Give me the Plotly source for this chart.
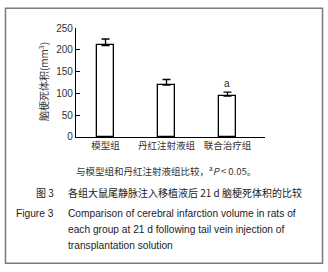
import plotly.graph_objects as go

categories = ["模型组", "丹红注射液组", "联合治疗组"]
volumes = [210, 119, 94]
errors = [15, 13, 9]
sig_marks = ["", "", "a"]
y_ticks = [0, 50, 100, 150, 200, 250]

W, H = 328, 272
def px(x): return x / W
def py(y): return 1 - y / H

CJK = "Noto Sans CJK SC, Liberation Sans, sans-serif"
LAT = "Liberation Sans, Arial, sans-serif"

fig = go.Figure()
fig.add_trace(go.Bar(
    x=categories, y=volumes, width=0.27,
    marker=dict(color="white", line=dict(color="black", width=1.3)),
    error_y=dict(type="data", array=errors, arrayminus=[0]*len(errors), symmetric=False,
                 color="black", thickness=1.3, width=4),
    showlegend=False, hoverinfo="skip",
))

for c, v, e, m in zip(categories, volumes, errors, sig_marks):
    if m:
        fig.add_annotation(x=c, y=v + e, text=m, showarrow=False, xanchor="center",
                           yanchor="bottom", yshift=1,
                           font=dict(family=LAT, size=10, color="#222"))

fig.update_layout(
    width=W, height=H, margin=dict(l=0, r=0, t=0, b=0),
    paper_bgcolor="white", plot_bgcolor="white",
    xaxis=dict(domain=[px(76), px(265)], range=[-0.484, 2.615], showline=True, linecolor="black",
               linewidth=1.2, ticks="", showgrid=False, zeroline=False,
               tickfont=dict(family=CJK, size=9.5, color="#333")),
    yaxis=dict(domain=[py(137), py(24)], range=[0, 250], tickvals=y_ticks, showline=True,
               linecolor="black", linewidth=1.2, ticks="inside", ticklen=4, tickcolor="black",
               showgrid=False, zeroline=False, tickfont=dict(family=LAT, size=10, color="#333")),
    bargap=0,
)

def note(x, y, text, font, xanchor="center", angle=0):
    fig.add_annotation(xref="paper", yref="paper", x=px(x), y=py(y), text=text, textangle=angle,
                       xanchor=xanchor, yanchor="middle", showarrow=False, font=font)

note(43, 80, "脑梗死体积(mm<sup>3</sup>)", dict(family=CJK, size=10, color="#333"), angle=-90)
note(166, 172, "与模型组和丹红注射液组比较，<sup>a</sup><i>P</i> < 0.05。",
     dict(family=CJK, size=9.5, color="#333"))
note(56, 195, "图 3", dict(family=CJK, size=10, color="#222"), xanchor="right")
note(66, 195, "各组大鼠尾静脉注入移植液后 21 d 脑梗死体积的比较",
     dict(family=CJK, size=10, color="#222"), xanchor="left")
note(56, 216, "Figure 3", dict(family=LAT, size=10.2, color="#222"), xanchor="right")
en_lines = ["Comparison of cerebral infarction volume in rats of",
            "each group at 21 d following tail vein injection of",
            "transplantation solution"]
for i, line in enumerate(en_lines):
    note(66, 216 + 16.6 * i, line, dict(family=LAT, size=10.2, color="#222"), xanchor="left")

fig.add_shape(type="rect", xref="paper", yref="paper", x0=px(5.5), x1=px(322.5), y0=py(268), y1=py(3.5),
              line=dict(color="#7a7a7a", width=1.5), layer="above")

fig.write_html("out.html", config={"displayModeBar": False})

with open("out.html", "r", encoding="utf-8") as f:
    html = f.read()
html = html.replace("<head>", "<head><style>html,body{margin:0;padding:0;overflow:hidden}</style>", 1)
with open("out.html", "w", encoding="utf-8") as f:
    f.write(html)
